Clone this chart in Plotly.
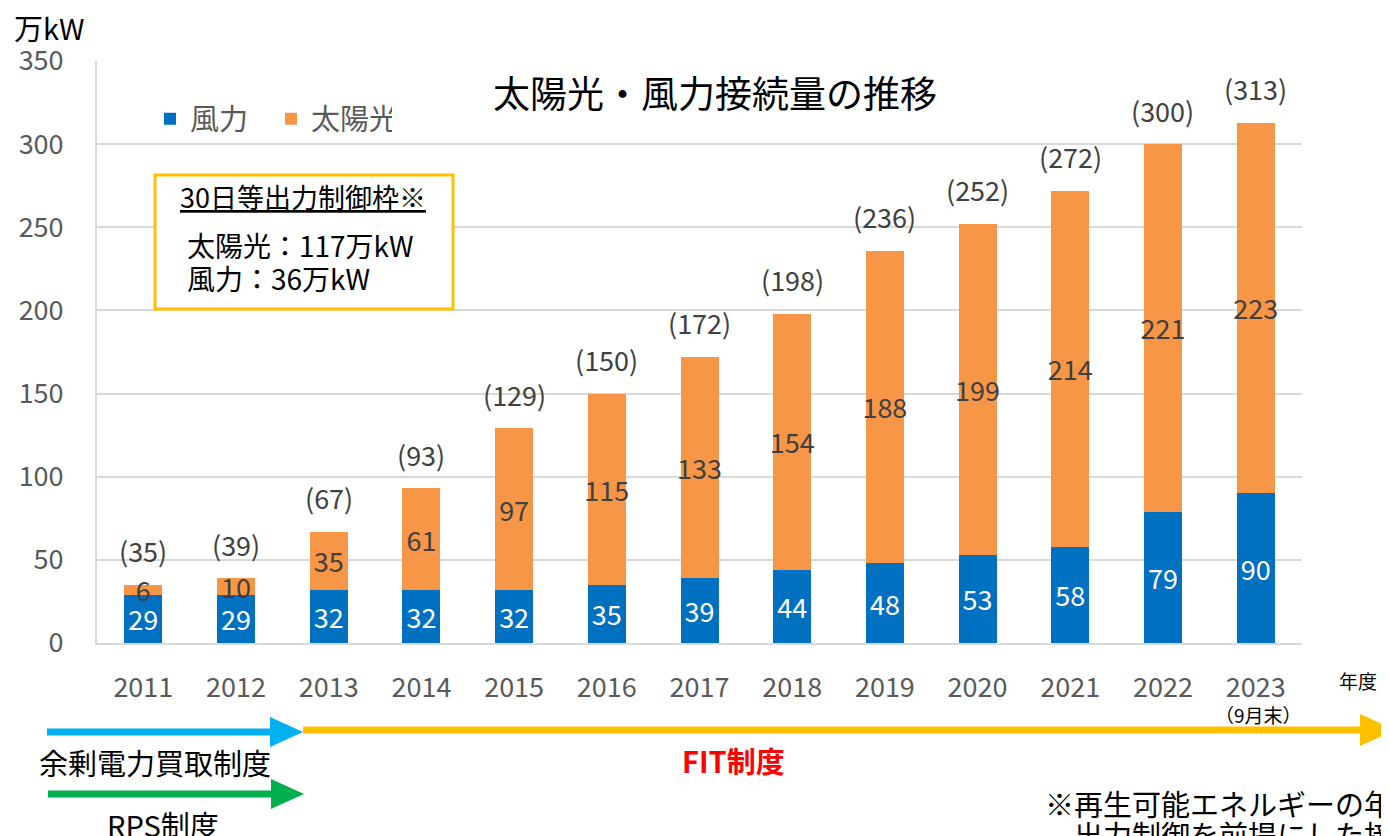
import plotly.graph_objects as go

years = ["2011", "2012", "2013", "2014", "2015", "2016", "2017",
         "2018", "2019", "2020", "2021", "2022", "2023"]
wind = [29, 29, 32, 32, 32, 35, 39, 44, 48, 53, 58, 79, 90]
solar = [6, 10, 35, 61, 97, 115, 133, 154, 188, 199, 214, 221, 223]
totals = [35, 39, 67, 93, 129, 150, 172, 198, 236, 252, 272, 300, 313]
y_ticks = [0, 50, 100, 150, 200, 250, 300, 350]

BLUE = "#0070C0"
ORANGE = "#F79646"
FONT = "Noto Sans CJK JP"
GREY = "#595959"
DARK = "#404040"

# the page body has an 8px margin; the figure is offset accordingly
OFF = 8
W, H = 1389 - OFF, 836 - OFF
L, R, T = 97 - OFF, 87, 61 - OFF
B = H - T - 582
PW, PH = W - L - R, H - T - B


def px(x):
    return (x - OFF - L) / PW


def py(y):
    return (H - B - (y - OFF)) / PH


fig = go.Figure()
fig.add_trace(go.Bar(
    name="風力", x=years, y=wind, marker=dict(color=BLUE, line=dict(width=0)),
    text=wind, texttemplate="%{text}", textposition="inside", textangle=0,
    insidetextanchor="middle", constraintext="none",
    textfont=dict(size=27, color="white", family=FONT),
))
fig.add_trace(go.Bar(
    name="太陽光", x=years, y=solar, marker=dict(color=ORANGE, line=dict(width=0)),
    text=solar, texttemplate="%{text}", textposition="inside", textangle=0,
    insidetextanchor="middle", constraintext="none",
    textfont=dict(size=27, color=DARK, family=FONT),
))

annotations = []
for i, tot in enumerate(totals):
    annotations.append(dict(
        x=i, y=tot, xref="x", yref="y", text=f"({tot})", showarrow=False,
        yanchor="middle", yshift=34, font=dict(size=27, color=DARK, family=FONT)))

def ann(x, y, text, size=24, color="black", xanchor="center"):
    annotations.append(dict(
        x=px(x), y=py(y), xref="paper", yref="paper", text=text, showarrow=False,
        xanchor=xanchor, yanchor="middle",
        font=dict(size=size, color=color, family=FONT)))

ann(12, 27, "万kW", size=29, xanchor="left")
ann(1358, 680, "年度", size=19)
ann(1258, 714, "（9月末）", size=19)
ann(303, 197, "<u>30日等出力制御枠※</u>", size=27)
ann(185, 245, "太陽光：117万kW", size=28, xanchor="left")
ann(185, 278, "風力：36万kW", size=28, xanchor="left")
ann(155, 762, "余剰電力買取制度", size=29)
ann(163, 824, "RPS制度", size=29)
ann(733, 760, "<b>FIT制度</b>", size=29, color="#FF0000")
ann(1043, 803, "※再生可能エネルギーの年間30日等の", size=29, xanchor="left")
ann(1072, 834, "出力制御を前提にした接続可能量", size=29, xanchor="left")

shapes = []
# yellow box
shapes.append(dict(type="rect", xref="paper", yref="paper",
                   x0=px(155), x1=px(453), y0=py(175), y1=py(309),
                   line=dict(color="#FFC000", width=3), fillcolor="white", layer="above"))

def arrow(x0, x1, xh, y, hh, color, lw=7):
    shapes.append(dict(type="line", xref="paper", yref="paper",
                       x0=px(x0), x1=px(xh + 2), y0=py(y), y1=py(y),
                       line=dict(color=color, width=lw)))
    path = f"M {px(xh)},{py(y - hh)} L {px(x1)},{py(y)} L {px(xh)},{py(y + hh)} Z"
    shapes.append(dict(type="path", xref="paper", yref="paper", path=path,
                       fillcolor=color, line=dict(width=0)))

arrow(47, 303, 270, 732, 15, "#00B0F0")
arrow(303, 1395, 1360, 730, 16, "#FFC000")
arrow(48, 304, 271, 794, 15, "#00B050")

fig.update_layout(
    width=W, height=H,
    margin=dict(l=L, r=R, t=T, b=B, pad=0),
    paper_bgcolor="white", plot_bgcolor="white",
    barmode="stack", bargap=0.59,
    font=dict(family=FONT, color=GREY),
    title=dict(text="太陽光・風力接続量の推移", x=(715 - OFF) / W, xanchor="center",
               y=1 - (95 - OFF) / H, yanchor="middle",
               font=dict(size=37, color="black", family=FONT)),
    legend=dict(orientation="h", x=px(150), y=py(119), xanchor="left", yanchor="middle",
                font=dict(size=29, color=GREY, family=FONT), bgcolor="rgba(0,0,0,0)",
                itemwidth=30, entrywidth=76, traceorder="normal"),
    showlegend=True,
    annotations=annotations,
    shapes=shapes,
)
fig.update_xaxes(type="category", range=[-0.5, len(years) - 0.5],
                 tickfont=dict(size=27, color=GREY, family=FONT),
                 showgrid=False, showline=True, linecolor="#D9D9D9", linewidth=2,
                 ticks="", ticklabelstandoff=20)
fig.update_yaxes(range=[0, 350], tickvals=y_ticks, tickfont=dict(size=27, color=GREY, family=FONT),
                 showgrid=True, gridcolor="#D9D9D9", gridwidth=2, zeroline=False,
                 showline=True, linecolor="#D9D9D9", linewidth=2, ticks="",
                 ticklabelstandoff=26)

fig.write_html("out.html")
